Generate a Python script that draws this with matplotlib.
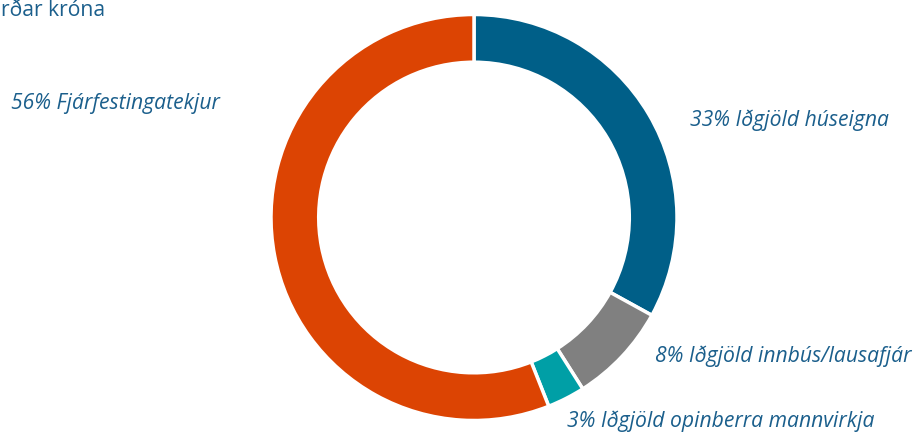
import matplotlib
matplotlib.use("Agg")
from matplotlib import pyplot as plt

# Data: share of income (%)
categories = ["Iðgjöld húseigna", "Iðgjöld innbús/lausafjár",
              "Iðgjöld opinberra mannvirkja", "Fjárfestingatekjur"]
shares = [33, 8, 3, 56]
colors = ["#005f88", "#808080", "#009fa6", "#dc4403"]

plt.rcParams['font.family'] = ['Open Sans', 'DejaVu Sans']

W, H = 919, 434
fig = plt.figure(figsize=(W / 100, H / 100), dpi=100)
ax = fig.add_axes([0, 0, 1, 1])

# donut, drawn clockwise from the top
cx, cy, r = 474, H - 217.5, 203
ax.pie(shares, colors=colors, startangle=90, counterclock=False,
       center=(cx, cy), radius=r,
       wedgeprops=dict(width=r * 0.235, edgecolor="white", linewidth=2.5))
ax.set_xlim(0, W)
ax.set_ylim(0, H)
ax.set_aspect("equal")
ax.axis("off")

label_color = "#1b5f8c"
label_pos = [(690, H - 120, "left"), (655, H - 356, "left"),
             (567, H - 421, "left"), (220, H - 103, "right")]
for cat, val, (x, y, ha) in zip(categories, shares, label_pos):
    ax.text(x, y, f"{val}% {cat}", ha=ha, va="center", fontsize=15.2,
            style="italic", color=label_color)

# title, clipped at the left edge in the original
ax.text(1, H - 16, "rðar króna", ha="left", va="baseline", fontsize=15.2,
        color=label_color)

plt.savefig("out.png", dpi=100)
